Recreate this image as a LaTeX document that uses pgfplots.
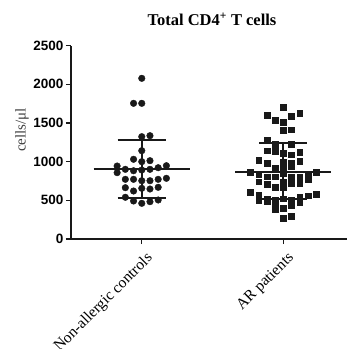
\documentclass[border=0pt]{standalone}
\usepackage{fontspec}
\setmainfont{Liberation Serif}
\setsansfont{Liberation Sans}
\usepackage{pgfplots}
\usepackage{pgfplotstable}
\pgfplotsset{compat=1.18}
\pgfplotstableread{
x y
1 2076
0.942 1753
1 1753
1 1322
1.058 1335
1 1141
0.942 1030
1 999
1.058 1012
0.826 943
0.884 900
0.942 882
1 891
1.058 900
1.116 921
1.174 947
0.826 857
0.884 771
0.942 771
1 753
1.058 753
1.116 771
1.174 784
0.884 663
0.942 620
1 655
1.058 646
1.116 668
0.884 539
0.942 491
1 461
1.058 482
1.116 504
}\controls
\pgfplotstableread{
x y
2 1700
1.884 1595
1.942 1533
2 1510
2.058 1590
2.116 1624
2 1408
2.058 1412
1.884 1275
1.942 1225
2.058 1225
1.884 1140
1.942 1130
2 1110
2.058 1090
2.116 1125
1.826 1021
1.884 978
2 1000
2.058 975
2.116 1008
1.942 913
2.058 943
2 930
1.768 865
1.826 840
1.884 805
1.942 805
2 850
2.058 805
2.116 805
2.174 820
2.174 775
2.232 862
1.826 740
1.884 706
1.942 668
2 740
2.058 720
2.116 720
2 670
1.768 600
1.826 568
1.826 495
1.884 520
1.884 485
1.942 505
1.942 440
1.942 390
2 520
2 400
2.058 505
2.058 430
2.116 545
2.116 480
2.174 559
2.232 577
2 270
2.058 290
}\patients
\begin{document}
\begin{tikzpicture}[x=1pt,y=1pt]
\path[use as bounding box] (0,0) rectangle (347,349);
\begin{axis}[
  at={(71pt,110pt)}, anchor=south west,
  scale only axis, width=276pt, height=193.5pt,
  xmin=0.5, xmax=2.45, ymin=0, ymax=2500,
  axis x line*=bottom, axis y line*=left,
  axis line style={line width=1.4pt, black!90},
  major tick style={line width=1.4pt, black!90},
  major tick length=5pt,
  tick align=outside,
  ytick={0,500,...,2500},
  xtick={1,2},
  xticklabels={Non-allergic controls, AR patients},
  /pgf/number format/1000 sep={},
  /pgf/number format/assume math mode=true,
  yticklabel style={font=\fontsize{13.5}{15}\selectfont\sffamily\bfseries, xshift=1pt},
  xticklabel style={rotate=45, anchor=north east, font=\fontsize{15.5}{17}\selectfont, xshift=1pt, yshift=-4pt},
  clip=false,
]
\addplot[only marks, mark=*, mark size=3.3pt, black!90] table {\controls};
\addplot[only marks, mark=square*, mark size=2.9pt, black!90] table {\patients};
% mean and SD lines
\addplot[black!90, line width=2pt] coordinates {(0.66,904) (1.34,904)};
\addplot[black!90, line width=2pt] coordinates {(1,527) (1,1281)};
\addplot[black!90, line width=2pt] coordinates {(0.83,1281) (1.17,1281)};
\addplot[black!90, line width=2pt] coordinates {(0.83,527) (1.17,527)};
\addplot[black!90, line width=2pt] coordinates {(1.66,869) (2.34,869)};
\addplot[black!90, line width=2pt] coordinates {(2,517) (2,1244)};
\addplot[black!90, line width=2pt] coordinates {(1.83,1244) (2.17,1244)};
\addplot[black!90, line width=2pt] coordinates {(1.83,517) (2.17,517)};
\end{axis}
\node[font=\fontsize{16.5}{19}\selectfont\bfseries] at (212,330) {Total CD4\textsuperscript{+} T cells};
\node[rotate=90, font=\fontsize{15}{17}\selectfont, text=black!75] at (22,219) {cells/μl};
\end{tikzpicture}
\end{document}
